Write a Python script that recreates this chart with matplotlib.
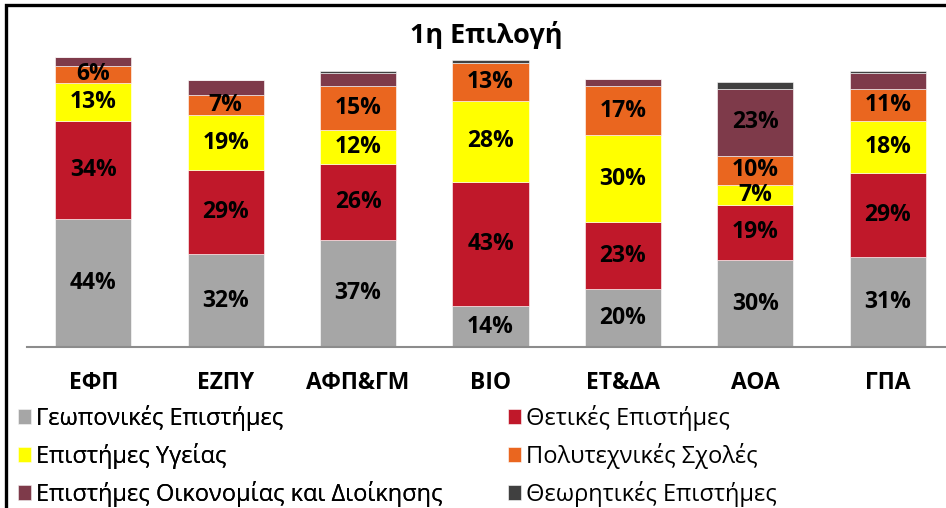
import matplotlib.pyplot as plt
import numpy as np
from matplotlib.patches import Rectangle

categories = ["ΕΦΠ", "ΕΖΠΥ", "ΑΦΠ&ΓΜ", "ΒΙΟ", "ΕΤ&ΔΑ", "ΑΟΑ", "ΓΠΑ"]
series_names = [
    "Γεωπονικές Επιστήμες",
    "Θετικές Επιστήμες",
    "Επιστήμες Υγείας",
    "Πολυτεχνικές Σχολές",
    "Επιστήμες Οικονομίας και Διοίκησης",
    "Θεωρητικές Επιστήμες",
]
geoponikes = [44, 32, 37, 14, 20, 30, 31]
thetikes = [34, 29, 26, 43, 23, 19, 29]
ygeias = [13, 19, 12, 28, 30, 7, 18]
polytexnikes = [6, 7, 15, 13, 17, 10, 11]
oikonomias = [3, 5, 4.5, 0, 2.5, 23, 5.5]
theoritikes = [0, 0, 0.5, 1, 0, 2.5, 0.5]
# which series carry value labels on the bars
labelled = [True, True, True, True, [False, False, False, False, False, True, False], False]

colors = ["#A6A6A6", "#C0182A", "#FFFF00", "#EA661F", "#7E3A4A", "#404040"]

plt.rcParams["font.family"] = ["Open Sans", "DejaVu Sans"]

fig = plt.figure(figsize=(9.46, 5.08), dpi=100)
ax = fig.add_axes([27 / 946, 161 / 508, 927 / 946, 290 / 508])

data = [geoponikes, thetikes, ygeias, polytexnikes, oikonomias, theoritikes]
x = np.arange(len(categories))
bottom = np.zeros(len(categories))
handles = []
for name, vals, col, lab in zip(series_names, data, colors, labelled):
    vals = np.asarray(vals, dtype=float)
    bars = ax.bar(x, vals, 0.575, bottom=bottom, color=col, edgecolor="white",
                  linewidth=0.4, label=name)
    handles.append(bars)
    if lab is True:
        show = [True] * len(vals)
    elif lab is False:
        show = [False] * len(vals)
    else:
        show = lab
    texts = [f"{v:.0f}%" if s else "" for v, s in zip(vals, show)]
    ax.bar_label(bars, labels=texts, label_type="center", fontsize=16.5,
                 fontweight="bold", color="black")
    bottom += vals

ax.set_xlim(-0.5, 6.5)
ax.set_ylim(0, 100)
ax.set_xticks(x)
ax.set_xticklabels(categories, fontsize=16.5, fontweight="bold")
ax.tick_params(axis="x", length=0, pad=17)
ax.set_yticks([])
for s in ["top", "right", "left"]:
    ax.spines[s].set_visible(False)
ax.spines["bottom"].set_color("#8C8C8C")
ax.spines["bottom"].set_linewidth(1.5)
ax.patch.set_visible(False)

fig.text(486 / 946, 1 - 35 / 508, "1η Επιλογή", ha="center", va="center",
         fontsize=19.5, fontweight="bold")

kw = dict(frameon=False, fontsize=17, handlelength=0.55, handleheight=0.6,
          handletextpad=0.2, labelspacing=0.5, borderpad=0, borderaxespad=0)
leg1 = fig.legend([handles[i] for i in (0, 2, 4)], [series_names[i] for i in (0, 2, 4)],
                  loc="upper left", bbox_to_anchor=(18 / 946, 1 - 405 / 508), **kw)
fig.add_artist(leg1)
fig.legend([handles[i] for i in (1, 3, 5)], [series_names[i] for i in (1, 3, 5)],
           loc="upper left", bbox_to_anchor=(508 / 946, 1 - 405 / 508), **kw)

fig.patches.append(Rectangle((5.5 / 946, -0.1), 1.2, 1.1 - 5.5 / 508,
                             transform=fig.transFigure, fill=False,
                             edgecolor="black", linewidth=2.4))

fig.savefig("out.png", dpi=100)
